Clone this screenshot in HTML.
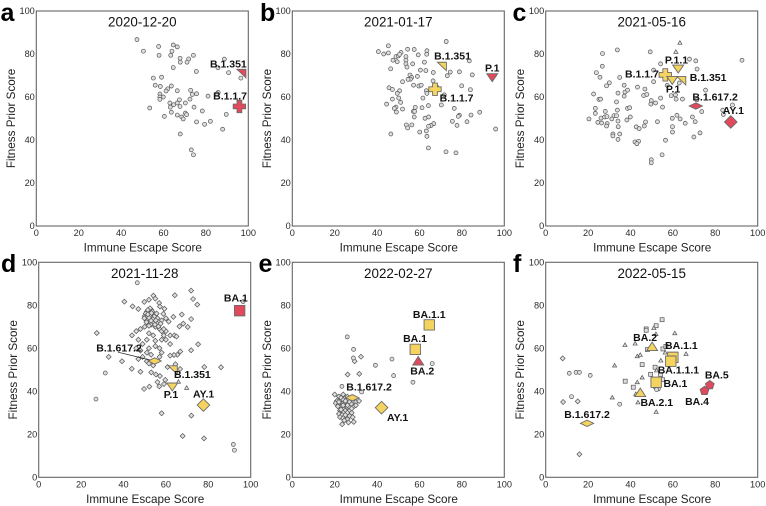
<!DOCTYPE html>
<html lang="en">
<head>
<meta charset="utf-8">
<title>Immune escape and fitness prior scores</title>
<style>
html,body{margin:0;padding:0;background:#fff;width:766px;height:506px;overflow:hidden}
svg{display:block;font-family:"Liberation Sans",Arial,sans-serif}
</style>
</head>
<body>
<svg id="figure" xmlns="http://www.w3.org/2000/svg" width="766" height="506" viewBox="0 0 766 506"></svg>
<script>
const xTicks=[0,20,40,60,80,100];
const yTicks=[0,20,40,60,80,100];
const panelLetters=['a','b','c','d','e','f'];
const panelDates=['2020-12-20','2021-01-17','2021-05-16','2021-11-28','2022-02-27','2022-05-15'];

const aCircles=[[47.5,86.7],[57.7,83.5],[64.6,84.2],[66.5,83.3],[50.5,81.3],[57.9,79.4],[64,81.3],[63.4,79.4],[67.8,78],[71.9,77.7],[74.1,79.4],[67.9,76.2],[71.1,76.2],[88.7,77.6],[85.7,73.6],[90.7,71.3],[64.6,73.7],[75.5,71.9],[96.5,68.8],[55.2,68.8],[59.1,69.2],[56.1,65.5],[58.5,64.9],[63.7,65.1],[62,63.8],[61.2,62.8],[66.5,62.9],[72.8,63.1],[58.3,61.4],[59.9,60],[58.3,60],[58.3,58.9],[73.6,61.2],[75.6,61.5],[72.5,59],[85.8,62.1],[85.2,61.5],[81,60.4],[67.5,58.7],[63,57.2],[64.8,56.4],[66.5,57.2],[63.2,55.3],[67.8,55.6],[70.3,57.2],[74.4,55.3],[53.5,54.9],[63.7,52.9],[60.4,51],[66.5,51.6],[68.6,50.7],[69.3,49.8],[70.3,52.5],[70.9,51.8],[78.3,53.5],[89.6,51.9],[75.6,48.4],[79.4,47.3],[82.1,48.7],[87.9,45],[67.9,42.8],[73.1,35.4],[74.1,33.1]];
const bCircles=[[40.6,81.1],[43.1,80],[45.3,83.8],[45.3,80.5],[47.5,77.1],[48.9,78.8],[49.5,76.4],[50,79.1],[51.3,80.7],[50.6,79.8],[53.6,78.8],[53.6,77.1],[53.6,75.4],[54.1,73.9],[54.4,82.2],[57.5,82.1],[59.4,79.6],[63.5,81.5],[63.4,79.9],[62.3,76.2],[56.8,75.4],[46.4,73.1],[72.6,85.8],[83.5,76.8],[60.4,72.5],[63,72.3],[66.5,71.4],[74.5,71.6],[73.1,69.9],[78.8,71.7],[84.9,70.3],[55.5,70.2],[59,69.6],[56.3,69.1],[55.7,68.3],[54.6,68.2],[52,67.1],[66.4,67.5],[57.2,65.5],[59.7,65.1],[60.8,65.5],[79.9,65.2],[45.6,64.3],[47.2,63.5],[50.6,62.9],[49.5,61.7],[63.2,62.9],[63.5,61.7],[84,63.4],[68.2,64.6],[71.7,61],[50.2,59.5],[47.2,59],[61.6,59.5],[44.5,56.7],[51.1,57.5],[64.2,56],[70.3,56.3],[48.9,55.3],[48.1,54.7],[49.1,53],[52,54.4],[58,55.2],[61.2,55],[76.4,54.7],[57.1,53.3],[57.7,53.3],[88.4,52.9],[84.3,51.6],[78.8,51.5],[78.3,51],[64.3,50.7],[62.6,50.1],[57.5,50.7],[75.5,48.7],[82.4,48.5],[77.7,46.8],[53.8,47],[56.4,47],[54.4,45.6],[66.7,47.6],[65.4,46.7],[64.3,46.4],[63.2,44.2],[60.1,43.7],[95.9,45.1],[46.5,42.8],[63.5,41.7],[64.2,36.3],[72.5,34.5],[77.2,34]];
const cCircles=[[20.4,49.8],[22.6,61.4],[23.9,71.3],[25.6,69.2],[26.7,74.3],[26.8,80.2],[33.8,81.9],[49.3,81],[92.6,77.1],[30,66.6],[28.7,65.2],[34.9,69.1],[37,65.5],[34.1,61.8],[37.4,62.3],[38.6,63.2],[37,60.4],[25.1,58.9],[25.9,59],[33.4,57.7],[23.4,54.7],[23.4,52.4],[28.1,53.3],[33.8,53.9],[38.6,54.7],[39.6,55],[43.3,64.6],[46.8,63.7],[46.2,60.7],[47.7,61.2],[49.8,58.3],[49.6,56.7],[51.8,57.2],[54.2,59.5],[55.1,55.3],[50.9,72.5],[50.9,67.1],[54.2,75.4],[67.8,77.6],[70.8,76.8],[71.4,73],[75.4,63.2],[59.2,60.6],[61.5,59],[61.2,61],[64.5,59],[57.3,65.4],[63,66.5],[26.1,50.2],[27.8,50.7],[28.9,50.9],[24.6,48.2],[26.4,47.9],[29,47.6],[28.7,46.5],[31.2,49.8],[32.2,51.3],[33.4,51.3],[34.1,48.8],[38.3,49.3],[39.9,50.7],[34.2,46.2],[31.7,42.8],[31.7,41.9],[34.9,42.8],[34.1,40.3],[42.7,46.1],[44.1,45.3],[46.5,46.5],[47.1,48.4],[52.7,48.5],[42.1,39.1],[43.8,39.4],[43,38.3],[56.5,39.9],[59.7,50.1],[61.9,51.5],[63.4,49.8],[65.8,47.8],[59.8,46.2],[59.8,43.7],[69.2,50.7],[70.5,48.5],[69.9,41.4],[72.8,43.3],[73.6,53.2],[83.5,53.9],[83.8,51.9],[88.1,56.3],[71.3,58.7],[54.9,33.1],[49.8,30.8],[49.8,29.4]];
const cTriangles=[[63.3,85.3],[61.4,81.1]];
const dCircles=[[46.5,90.5],[27,36.4],[31.4,48.5],[91.8,15.3],[92.3,12.6],[96.4,81.7]];
const dDiamonds=[[71.9,86.8],[64.2,84.7],[72.8,82.9],[74.8,80.3],[40.4,81.7],[44.3,79.5],[47,78.3],[49.8,81.6],[52,82.6],[54.1,84.5],[55,83.1],[56.8,81.1],[57.2,79.4],[59.3,78.4],[58.8,76],[63.5,74.6],[61.3,72.4],[67.5,75.7],[71.9,73.6],[68.2,71.5],[66.4,70.2],[70.3,69.9],[52,78],[53,78],[51,77],[52,76],[54,76],[50,75],[51,74.5],[53,74.5],[55,75],[56,74],[51,73],[52,72],[54,72],[56,71.5],[58,73],[60,74],[53,71],[55,70],[57,69],[50,70],[48,69],[46,68],[52,67],[54,66],[58,68],[60,68],[59,66],[62,66],[64,66],[65,65.5],[44,66],[47,64],[51,64],[55,63.5],[58,64],[60,64],[62,62],[49,62],[52,60],[55,61],[57,60],[58,58],[46,60],[48,59],[51,58],[53,57],[57,56],[49,56],[47,55],[51,54],[52,53],[54,52],[27.4,67.1],[33,56],[39.3,54],[43.9,50.5],[48,49.1],[53.1,48.8],[55.3,47.8],[57.2,47.1],[56,44.3],[59.7,45.3],[56.9,42.3],[52.2,42.2],[49.7,41.1],[58,29.8],[72,28.7],[67.9,19.2],[78,18.1],[86,51.2],[78.1,51.3],[75.2,61.9],[71.9,59.1],[66.8,58.5],[65.4,57],[63.8,56.9],[62,56.6],[64.5,52.6],[60.8,51.3],[66.7,50.4],[59.1,43.4],[52.5,78.6],[51.5,77.8],[53.5,77.2],[50.5,76.2],[52.8,75.2],[54.5,74.8],[49.8,74],[52,74.2],[53.8,73.5],[55.2,73],[50.8,72.2],[53,72.8],[54.8,71],[52,70.5],[56.5,70.2],[51.5,75.8],[53.2,76.4],[55.6,76.2],[57.5,71.5],[59,69]];
const dTriangles=[[65.9,44.5],[69.8,41.7]];
const eCircles=[[25.9,65.3],[28.9,59.5],[28.8,55.5],[39.2,52.1],[47,55],[47.8,47.3],[66,52.9],[56.9,44.2],[23.4,42.3],[32.7,39.7]];
const eDiamonds=[[29.4,54],[32.4,56.1],[26.1,47.8],[31.6,48.1],[20,38.5],[22,37.5],[24,38.5],[25,37],[23,36],[26,36],[21,35.5],[20.5,34.5],[22,34],[24,35],[25,34],[27,35],[28,34],[23,33],[25,33],[26,32.5],[30,35],[31.5,35.5],[21.5,33],[24,32],[27,32.5],[29,33],[22.5,31],[25,31],[27,31],[24,30],[26,30],[28,30],[22,29.5],[23.5,29],[25,29],[27,28.5],[28.5,28],[22.5,28],[24,27.5],[26,27],[24.5,26.5],[23.5,24.7],[26.5,25.5],[29,25.8],[23,37],[24,36],[26,37.5],[22,35],[25,35.5],[23,31.5],[26,33.5],[28,32],[30,33.5],[24,33.5]];
const fCircles=[[11.1,48.4],[14.3,48.8],[15.9,48.8],[21,47.4],[12.2,37.5],[34.9,34],[53.1,41.1],[52.3,40.8]];
const fDiamonds=[[8,55.3],[8.2,35],[15.1,35.3],[15.9,10.7]];
const fTriangles=[[37.4,61.6],[42.2,62.3],[32.5,52.1],[43.2,56.4],[44.6,57],[60.9,67.1],[66.2,57.5],[51,69.5],[52,66.7],[54.3,54.4],[45.5,46.5],[43.2,44.3],[31.4,37.2],[43.5,34.9],[52.1,30.5],[42.5,38.8],[56.4,58.1],[52.3,49.8]];
const fSquares=[[54.9,73.3],[52.1,70.5],[47.4,69],[47.4,68.4],[48,59.4],[45.5,52.4],[37.5,44.7],[41.3,41.9],[49.5,47.9],[51.6,51.2],[54.2,47.8],[55.3,59.7],[56.7,60.9],[61.4,56],[55.1,45.4],[51.8,42.3]];

const aVariants=['B.1.351','B.1.1.7'];
const aVariantX=[97,95.8];
const aVariantY=[71,55.6];
const aLabelX=[90.6,91.4];
const aLabelY=[75.4,60.6];
const aShapes=['corner','plus'];
const aColors=['r','r'];

const bVariants=['B.1.351','B.1.1.7','P.1'];
const bVariantX=[70.8,67.3,94.3];
const bVariantY=[74.3,63.6,69];
const bLabelX=[75.6,77.5,94.3];
const bLabelY=[79.1,59.7,73.5];
const bShapes=['corner','plus','down'];
const bColors=['y','y','r'];

const cVariants=['P.1.1','B.1.1.7','P.1','B.1.351','B.1.617.2','AY.1'];
const cVariantX=[62.5,56.4,59.7,64.2,70.8,87.3];
const cVariantY=[73,70.3,67.7,67.7,55.8,48.4];
const cLabelX=[61.7,45.4,60.1,76.6,79.9,88.5];
const cLabelY=[77.3,70.8,63.7,69.1,60,53.9];
const cShapes=['down','plus','down','corner','flat','diamond'];
const cColors=['y','y','y','y','r','r'];

const dVariants=['BA.1','B.1.617.2','B.1.351','P.1','AY.1'];
const dVariantX=[94.8,54.7,63.5,63,77.7];
const dVariantY=[77.5,54.1,50,42,33.6];
const dLabelX=[93,37.9,72.5,62.4,77.8];
const dLabelY=[83.4,60.2,47.8,38.6,38.8];
const dShapes=['square','flat','corner','down','diamond'];
const dColors=['r','y','y','y','y'];

const eVariants=['BA.1.1','BA.1','BA.2','B.1.617.2','AY.1'];
const eVariantX=[64.6,58,59.4,28.3,42.1];
const eVariantY=[70.9,59.5,54.1,37,32.4];
const eLabelX=[64.6,57.9,61.3,36.2,49.7];
const eLabelY=[75.8,64.7,49.5,42,27.9];
const eShapes=['square','square','up','flat','diamond'];
const eColors=['y','y','r','y','y'];

const fVariants=['BA.2','BA.1.1','BA.1.1.1','BA.1','BA.2.1','BA.5','BA.4','B.1.617.2'];
const fVariantX=[50.2,60,59,52.1,44.6,77.4,74.9,19.5];
const fVariantY=[60.8,55.8,54,44.2,39.4,42.9,40.2,25.1];
const fLabelX=[46.9,64,62.6,61.2,52.4,80.7,71.4,19.5];
const fLabelY=[65.1,61.4,49.9,43.7,35,47.6,35.3,29.3];
const fShapes=['up','square','square','square','up','pentagon','pentagon','flat'];
const fColors=['y','y','y','y','y','r','r','y'];

const NS='http://www.w3.org/2000/svg';
const fig=document.getElementById('figure');
const FILLS={r:'#e2495d',y:'#f5d35f'};

function node(parent,tag,attrs){
  const el=document.createElementNS(NS,tag);
  for(const k in attrs){el.setAttribute(k,attrs[k]);}
  parent.appendChild(el);
  return el;
}
function polyPoints(cx,cy,list){
  return list.map(function(p){return (cx+p[0]).toFixed(2)+','+(cy+p[1]).toFixed(2);}).join(' ');
}
function pentagon(r){
  const pts=[];
  for(let i=0;i<5;i++){
    const t=-Math.PI/2+i*2*Math.PI/5;
    pts.push([r*Math.cos(t),r*Math.sin(t)]);
  }
  return pts;
}
const SHAPES={
  down:[[-5.5,-4],[5.5,-4],[0,4]],
  up:[[-5.5,4],[5.5,4],[0,-4.5]],
  corner:[[-5,-4],[4,-4],[4,4.5]],
  square:[[-5.2,-5.2],[5.2,-5.2],[5.2,5.2],[-5.2,5.2]],
  diamond:[[0,-6.3],[6.3,0],[0,6.3],[-6.3,0]],
  flat:[[0,-3.2],[6.6,0],[0,3.2],[-6.6,0]],
  plus:[[-2.4,-6.2],[2.4,-6.2],[2.4,-2.4],[6.2,-2.4],[6.2,2.4],[2.4,2.4],[2.4,6.2],[-2.4,6.2],[-2.4,2.4],[-6.2,2.4],[-6.2,-2.4],[-2.4,-2.4]],
  pentagon:pentagon(4.6)
};
function drawSmall(g,pts,kind,sx,sy){
  pts.forEach(function(p){
    const cx=sx(p[0]),cy=sy(p[1]);
    let el;
    if(kind==='circle'){
      el=node(g,'circle',{cx:cx,cy:cy,r:2});
    }else if(kind==='diamond'){
      el=node(g,'polygon',{points:polyPoints(cx,cy,[[0,-2.5],[2.5,0],[0,2.5],[-2.5,0]])});
    }else if(kind==='triangle'){
      el=node(g,'polygon',{points:polyPoints(cx,cy,[[-2.1,1.7],[2.1,1.7],[0,-1.9]])});
    }else{
      el=node(g,'rect',{x:cx-2,y:cy-2,width:4,height:4});
    }
    el.setAttribute('fill','#dedede');
    el.setAttribute('stroke','#555');
    el.setAttribute('stroke-width','0.7');
    
    
  });
}
function drawPanel(cfg){
  const L=cfg.left,T=cfg.top,W=212,H=215;
  const sx=function(v){return L+v/100*W;};
  const sy=function(v){return T+H-v/100*H;};
  const g=node(fig,'g',{});
  
  

  const frame=node(g,'rect',{x:L,y:T,width:W,height:H,fill:'#fff',stroke:'#666','stroke-width':1.1});
  
  

  const letter=node(g,'text',{x:cfg.letterX,y:cfg.letterY,'font-size':25,'font-weight':'bold',fill:'#000'});
  letter.textContent=cfg.letter;
  
  

  const title=node(g,'text',{x:L+W/2,y:T+15.5,'font-size':13.4,'text-anchor':'middle',fill:'#111'});
  title.textContent=cfg.date;
  
  

  xTicks.forEach(function(t){
    const el=node(g,'text',{x:sx(t),y:T+H+10,'font-size':9.2,'text-anchor':'middle',fill:'#2a2a2a'});
    el.textContent=t;
    
    
  });
  yTicks.forEach(function(t){
    const el=node(g,'text',{x:L-1.5,y:sy(t)+3.2,'font-size':9.2,'text-anchor':'end',fill:'#2a2a2a'});
    el.textContent=t;
    
    
  });

  const xt=node(g,'text',{x:L+W/2+.5,y:T+H+25.5,'font-size':11.7,'text-anchor':'middle',fill:'#222'});
  xt.textContent='Immune Escape Score';
  
  

  const yx=L-21.5,yy=T+H/2;
  const yt=node(g,'text',{x:yx,y:yy,'font-size':11.7,'text-anchor':'middle',fill:'#222',transform:'rotate(-90 '+yx+' '+yy+')'});
  yt.textContent='Fitness Prior Score';
  
  

  drawSmall(g,cfg.squares||[],'square',sx,sy);
  drawSmall(g,cfg.triangles||[],'triangle',sx,sy);
  drawSmall(g,cfg.diamonds||[],'diamond',sx,sy);
  drawSmall(g,cfg.circles||[],'circle',sx,sy);

  cfg.variants.forEach(function(name,i){
    const cx=sx(cfg.vx[i]),cy=sy(cfg.vy[i]);
    const m=node(g,'polygon',{points:polyPoints(cx,cy,SHAPES[cfg.shapes[i]]),fill:FILLS[cfg.colors[i]],stroke:'#6b6b6b','stroke-width':0.9,'stroke-linejoin':'miter'});
    
    
  });
  if(cfg.arrow){
    const i=cfg.arrow.index;
    const ln=node(g,'line',{x1:sx(cfg.lx[i]-.5),y1:sy(cfg.ly[i]-2),x2:sx(cfg.vx[i]-2),y2:sy(cfg.vy[i]+.4),stroke:'#222','stroke-width':0.7});
    
    
  }
  cfg.variants.forEach(function(name,i){
    const t=node(g,'text',{x:sx(cfg.lx[i]),y:sy(cfg.ly[i])+3.7,'font-size':10.5,'font-weight':'bold','text-anchor':'middle',fill:'#111'});
    t.textContent=name;
    
    
  });
}

drawPanel({letter:panelLetters[0],date:panelDates[0],left:36.3,top:11,letterX:0.5,letterY:21,circles:aCircles,variants:aVariants,vx:aVariantX,vy:aVariantY,lx:aLabelX,ly:aLabelY,shapes:aShapes,colors:aColors});
drawPanel({letter:panelLetters[1],date:panelDates[1],left:292.3,top:11,letterX:260,letterY:21,circles:bCircles,variants:bVariants,vx:bVariantX,vy:bVariantY,lx:bLabelX,ly:bLabelY,shapes:bShapes,colors:bColors});
drawPanel({letter:panelLetters[2],date:panelDates[2],left:545.7,top:11,letterX:512.5,letterY:21,circles:cCircles,triangles:cTriangles,variants:cVariants,vx:cVariantX,vy:cVariantY,lx:cLabelX,ly:cLabelY,shapes:cShapes,colors:cColors});
drawPanel({letter:panelLetters[3],date:panelDates[3],left:38.7,top:262.3,letterX:1,letterY:272,circles:dCircles,diamonds:dDiamonds,triangles:dTriangles,variants:dVariants,vx:dVariantX,vy:dVariantY,lx:dLabelX,ly:dLabelY,shapes:dShapes,colors:dColors,arrow:{index:1}});
drawPanel({letter:panelLetters[4],date:panelDates[4],left:292.3,top:262.3,letterX:258.5,letterY:272,circles:eCircles,diamonds:eDiamonds,variants:eVariants,vx:eVariantX,vy:eVariantY,lx:eLabelX,ly:eLabelY,shapes:eShapes,colors:eColors});
drawPanel({letter:panelLetters[5],date:panelDates[5],left:545.7,top:262.3,letterX:513,letterY:272,circles:fCircles,diamonds:fDiamonds,triangles:fTriangles,squares:fSquares,variants:fVariants,vx:fVariantX,vy:fVariantY,lx:fLabelX,ly:fLabelY,shapes:fShapes,colors:fColors});
</script>
</body>
</html>
